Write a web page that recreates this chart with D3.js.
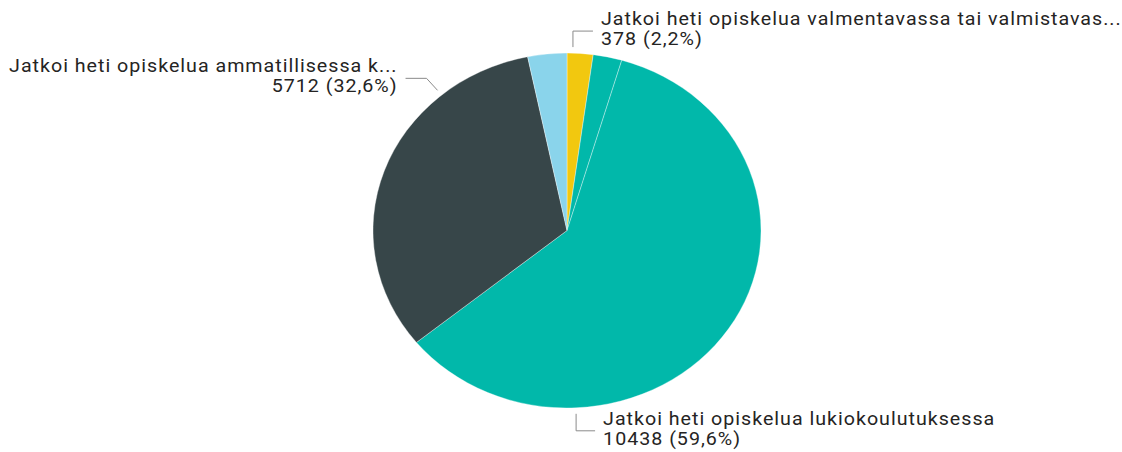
<!DOCTYPE html>
<html>
<head>
<meta charset="utf-8">
<script src="https://cdn.jsdelivr.net/npm/d3@7"></script>
<style>
    html, body { margin: 0; padding: 0; background: #fff; }
    svg { display: block; }
    .lbl { font-family: Roboto, "Liberation Sans", sans-serif; font-size: 18px; letter-spacing: 0.9px; fill: #252423; }
</style>
</head>
<body>
<svg id="chart" width="1122" height="452"></svg>
<script>
// slices, clockwise from 12 o'clock
const categories = [
    "Jatkoi heti opiskelua valmentavassa tai valmistavas...",
    "Muu",
    "Jatkoi heti opiskelua lukiokoulutuksessa",
    "Jatkoi heti opiskelua ammatillisessa k...",
    "Ei jatkanut heti opiskelua"
];
const values = [378, 420, 10438, 5712, 570];
const valueLabels = ["378 (2,2%)", null, "10438 (59,6%)", "5712 (32,6%)", null];
const colors = ["#F2C80F", "#01B8AA", "#01B8AA", "#374649", "#8AD4EB"];

const W = 1122, H = 452;
const cx = 567, cy = 230.5;
const r = 177.5;
const sx = 1.093; // picture is a bit wider than tall

const svg = d3.select("#chart");

const pie = d3.pie().sort(null).value(d => d.value);
const arc = d3.arc().innerRadius(0).outerRadius(r);

const data = categories.map((c, i) => ({ name: c, value: values[i], label: valueLabels[i], color: colors[i] }));
const arcs = pie(data);

const g = svg.append("g")
    .attr("transform", `translate(${cx},${cy}) scale(${sx},1)`);

g.selectAll("path")
    .data(arcs)
    .enter().append("path")
    .attr("d", arc)
    .attr("fill", d => d.data.color)
    .attr("stroke", "#fff")
    .attr("stroke-opacity", 0.5)
    .attr("stroke-width", 0.7)
    .attr("vector-effect", "non-scaling-stroke");

// leader lines: start angle (deg) on the rim, elbow offset, horizontal run
const leaders = {
    0: { angle: 1.7, elbow: [0, -16], run: 20, side: 1 },
    2: { angle: 177.4, elbow: [0, 17], run: 19, side: 1 },
    3: { angle: 319.8, elbow: [-11, -12], run: -21, side: -1 }
};

const pt = (deg, rad) => {
    const a = deg * Math.PI / 180;
    return [cx + Math.sin(a) * rad * sx, cy - Math.cos(a) * rad];
};

arcs.forEach((d, i) => {
    const L = leaders[i];
    if (!L) return;
    const p0 = pt(L.angle, r + 6);
    const p1 = [p0[0] + L.elbow[0], p0[1] + L.elbow[1]];
    const p2 = [p1[0] + L.run, p1[1]];

    svg.append("path")
        .attr("d", d3.line()([p0, p1, p2]))
        .attr("fill", "none")
        .attr("stroke", "#8a8a8a")
        .attr("stroke-width", 1);

    // text is stretched the same way as the pie
    const tg = svg.append("g")
        .attr("transform", `translate(${p2[0] + L.side * 8},0) scale(${sx},1)`);
    const t = tg.append("text")
        .attr("class", "lbl")
        .attr("text-anchor", L.side > 0 ? "start" : "end");
    t.append("tspan").attr("x", 0).attr("y", p1[1] - 6).text(d.data.name);
    t.append("tspan").attr("x", 0).attr("y", p1[1] + 14).text(d.data.label);
});
</script>
</body>
</html>
